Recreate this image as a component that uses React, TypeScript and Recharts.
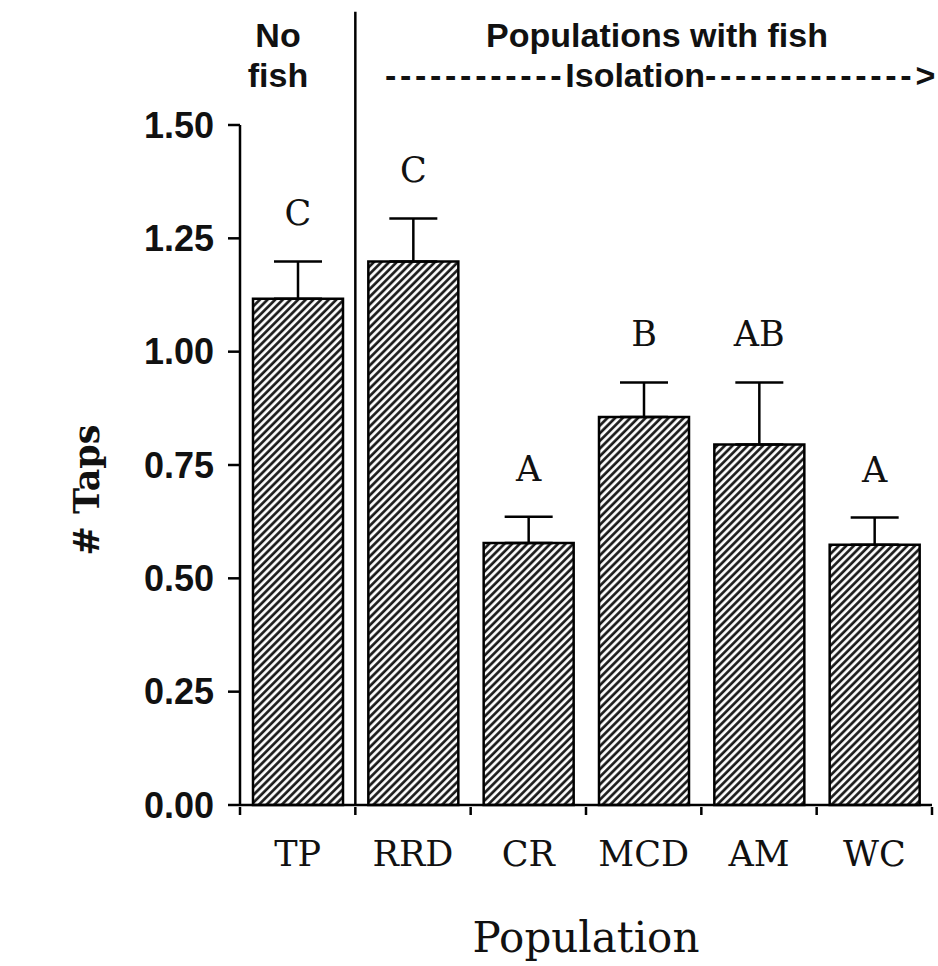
import React from 'react'
import { BarChart, Bar, XAxis, YAxis, ErrorBar, LabelList, ReferenceLine } from 'recharts'

const populations = ['TP', 'RRD', 'CR', 'MCD', 'AM', 'WC']
const meanTaps = [1.117, 1.199, 0.578, 0.856, 0.795, 0.574]
const seTaps = [0.082, 0.095, 0.058, 0.076, 0.137, 0.06]
const groupLetters = ['C', 'C', 'A', 'B', 'AB', 'A']
const yTicks = [0, 0.25, 0.5, 0.75, 1.0, 1.25, 1.5]

const sans = '"Liberation Sans", Arial, sans-serif'
const serif = '"DejaVu Serif", "Liberation Serif", serif'

const chartData = populations.map((p, i) => ({
  pop: p,
  taps: meanTaps[i],
  err: [0, seTaps[i]],
}))

const PopTick = ({ x, y, payload, index }: any) => {
  const half = payload?.offset || 57.7
  return (
    <g>
      <line x1={x - half} y1={y} x2={x - half} y2={y + 8} stroke="#000" strokeWidth={2.5} />
      {index === populations.length - 1 && (
        <line x1={x + half} y1={y} x2={x + half} y2={y + 8} stroke="#000" strokeWidth={2.5} />
      )}
      <text x={x} y={y + 59} textAnchor="middle" fontFamily={serif} fontSize={35} fill="#111">
        {payload.value}
      </text>
    </g>
  )
}

const LetterLabel = ({ x, y, width, height, index }: any) => {
  // pixels per unit from the bar itself, so the letter sits above the error cap
  const perUnit = height / meanTaps[index]
  const capY = y - seTaps[index] * perUnit
  return (
    <text x={x + width / 2} y={capY - 36} textAnchor="middle" fontFamily={serif} fontSize={35} fill="#111">
      {groupLetters[index]}
    </text>
  )
}

const YLabel = ({ viewBox }: any) => {
  const cx = viewBox.x + 86
  const cy = viewBox.y + viewBox.height / 2 + 25
  return (
    <text
      x={cx}
      y={cy}
      transform={`rotate(-90, ${cx}, ${cy})`}
      textAnchor="middle"
      dominantBaseline="central"
      fontFamily={serif}
      fontWeight="bold"
      fontSize={35}
      fill="#111"
    >
      # Taps
    </text>
  )
}

export default function App() {
  return (
    <div style={{ position: 'absolute', left: 0, top: 0, width: 938, height: 966, background: '#fff' }}>
      <svg width={0} height={0} style={{ position: 'absolute' }}>
        <defs>
          <pattern id="hatch" patternUnits="userSpaceOnUse" width={5.4} height={5.4} patternTransform="rotate(45)">
            <rect width={5.4} height={5.4} fill="#fff" />
            <line x1={1.5} y1={0} x2={1.5} y2={5.4} stroke="#1a1a1a" strokeWidth={2.7} />
          </pattern>
        </defs>
      </svg>
      <BarChart width={938} height={966} data={chartData} margin={{ top: 125, right: 6, bottom: 0, left: 0 }}>
        <XAxis
          dataKey="pop"
          height={161}
          tickLine={false}
          tickSize={0}
          axisLine={{ stroke: '#000', strokeWidth: 2.5 }}
          tick={<PopTick />}
          interval={0}
          label={{
            value: 'Population',
            position: 'insideBottom',
            offset: 14,
            style: { fontFamily: serif, fontSize: 42, fill: '#111' },
          }}
        />
        <YAxis
          width={240}
          domain={[0, 1.5]}
          ticks={yTicks}
          tickFormatter={(v: number) => v.toFixed(2)}
          tickSize={12}
          tickMargin={14}
          axisLine={{ stroke: '#000', strokeWidth: 2.5 }}
          tickLine={{ stroke: '#000', strokeWidth: 2.5 }}
          tick={{ fontFamily: sans, fontWeight: 'bold', fontSize: 36, fill: '#111' }}
          label={<YLabel />}
        />
        <ReferenceLine
          segment={[{ x: 'RRD', y: 0 }, { x: 'RRD', y: 1.75 }]}
          position="start"
          ifOverflow="visible"
          stroke="#000"
          strokeWidth={2.5}
        />
        <Bar dataKey="taps" fill="url(#hatch)" stroke="#000" strokeWidth={2.5} barSize={90} isAnimationActive={false}>
          <ErrorBar dataKey="err" direction="y" width={24} stroke="#000" strokeWidth={2.5} />
          <LabelList dataKey="taps" content={<LetterLabel />} />
        </Bar>
      </BarChart>
      <svg width={938} height={966} style={{ position: 'absolute', left: 0, top: 0, pointerEvents: 'none' }}>
        <g fontFamily={sans} fontWeight="bold" fontSize={34} fill="#111">
          <text x={278} y={47} textAnchor="middle">No</text>
          <text x={278} y={87} textAnchor="middle">fish</text>
          <text x={657} y={47} textAnchor="middle">Populations with fish</text>
          <text x={385} y={87}>
            <tspan letterSpacing={3.7}>------------</tspan>
            <tspan>Isolation</tspan>
            <tspan letterSpacing={3.7}>--------------</tspan>
            <tspan>{'>'}</tspan>
          </text>
        </g>
      </svg>
    </div>
  )
}
